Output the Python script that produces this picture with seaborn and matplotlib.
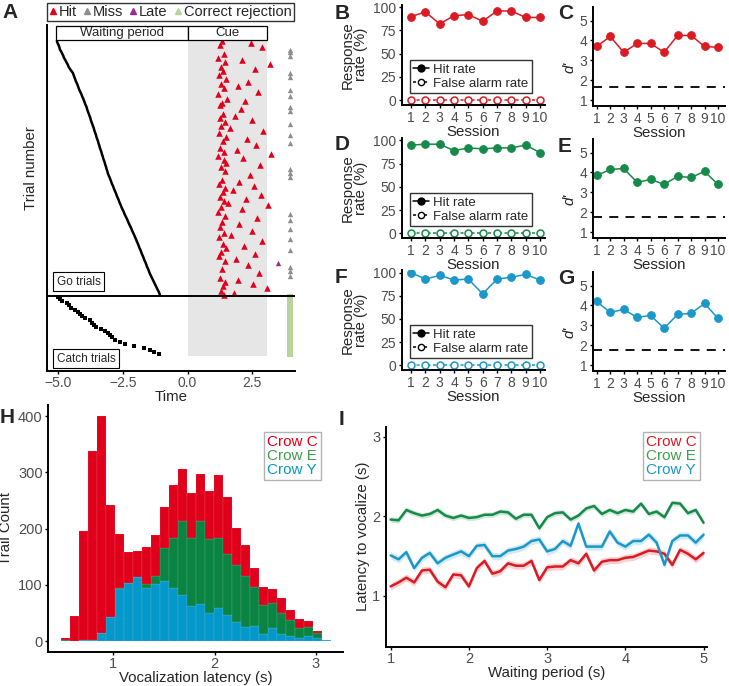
import numpy as np
import pandas as pd
import matplotlib
matplotlib.use("Agg")
import matplotlib.pyplot as plt
from matplotlib.lines import Line2D
from matplotlib.patches import Rectangle
import seaborn as sns

sns.set_theme(style="ticks")
plt.rcParams['font.family'] = ['Liberation Sans', 'DejaVu Sans']

RED = "#DA1B24"
GREEN = "#168A49"
BLUE = "#1B98C9"
H_RED = "#E0001B"
H_GREEN = "#0B8443"
H_BLUE = "#0497C9"
MISS_GRAY = "#8E8E8E"
LATE_PURPLE = "#9A2C8C"
CR_GREEN = "#B8D49C"
TXT_GRAY = "#4D4D4D"

# ---------------- A: trial raster ----------------
go_wait = [
    -5.05, -5.02, -4.98, -4.95, -4.93, -4.88, -4.84, -4.80, -4.77, -4.72, -4.68, -4.63, -4.60, -4.55, -4.49, -4.43,
    -4.40, -4.37, -4.34, -4.31, -4.27, -4.24, -4.21, -4.18, -4.14, -4.10, -4.07, -4.03, -4.00, -3.97, -3.94, -3.90,
    -3.88, -3.85, -3.82, -3.79, -3.76, -3.74, -3.71, -3.68, -3.65, -3.62, -3.60, -3.57, -3.54, -3.52, -3.49, -3.46,
    -3.44, -3.41, -3.39, -3.36, -3.33, -3.31, -3.28, -3.26, -3.23, -3.20, -3.18, -3.15, -3.13, -3.10, -3.08,
    -3.05, -3.01, -2.98, -2.95, -2.92, -2.88, -2.85, -2.82, -2.78, -2.75, -2.72, -2.68, -2.65, -2.62, -2.58, -2.55,
    -2.51, -2.47, -2.44, -2.40, -2.36, -2.32, -2.29, -2.25, -2.21, -2.17, -2.14, -2.10, -2.06, -2.03, -1.99,
    -1.96, -1.92, -1.89, -1.86, -1.82, -1.79, -1.76, -1.72, -1.69, -1.66, -1.62, -1.59, -1.56, -1.52, -1.49, -1.46,
    -1.42, -1.38, -1.34, -1.30, -1.26, -1.22, -1.18, -1.14, -1.10, -1.07,
]
go_hit = [
    1.32, 2.45, 1.25, 2.86, None, None, 1.40, None, 1.18, 2.10,
    1.45, 3.18, 1.28, 2.62, 1.36, None, 1.22, None, 1.48, 2.35,
    1.30, 1.95, 1.41, None, 2.72, 1.19, None, 1.52, 2.20, 1.34,
    1.26, None, 2.05, None, 1.38, 1.85, 1.24, 2.50, 1.43, None,
    1.31, 1.62, 2.93, 1.20, None, 1.47, 2.28, 1.35, None, 2.66,
    1.27, 1.90, 1.42, 3.22, 1.16, 2.15, 1.39, 1.50, 2.78, 1.29,
    None, 1.44, None, 2.40, None, 1.33, 2.00, 1.22, 2.55, 1.46,
    1.75, 1.37, 2.84, 1.25, 2.25, 1.40, 1.55, 3.10, 1.30, 2.12,
    1.18, None, 1.45, 2.70, None, 1.34, 1.98, 1.27, None, 2.48,
    1.41, 1.68, 1.23, None, 2.88, 1.36, 2.18, 1.48, None, 1.30,
    2.60, 1.21, 1.88, 1.43, None, 2.35, None, 1.32, None, 2.75,
    None, 1.26, 1.95, 1.44, 2.52, 1.35, 3.05, 1.28, 1.80, 1.40,
]
go_miss = [4, 5, 7, 15, 17, 23, 26, 31, 33, 39, 44, 48, 60, 62, 64, 81, 84, 88, 93, 98, 106, 108, 110]
go_late = [104]
late_time = [3.5]
catch_wait = [
    -5.00, -4.92, -4.84, -4.66, -4.58, -4.50, -4.36, -4.22, -4.14, -4.06, -3.98, -3.78, -3.70, -3.62,
    -3.54, -3.34, -3.20, -3.06, -2.98, -2.90, -2.82, -2.62, -2.40, -2.05, -1.70, -1.45, -1.30, -1.12,
]
cue_end = 3.07
outcome_x = 3.95   # column used for miss / correct rejection marks

# ---------------- B-G: sessions ----------------
sessions = list(range(1, 11))
hit_c = [90, 95, 82, 91, 92, 85, 96, 96, 89, 89]
hit_e = [95, 96, 96, 89, 92, 91, 92, 92, 95, 87]
hit_y = [100, 93, 97, 92, 93, 77, 93, 95, 98, 92]
fa_c = [0, 0, 0, 0, 0, 0, 0, 0, 0, 0]
fa_e = [0, 0, 0, 0, 0, 0, 0, 0, 0, 0]
fa_y = [0, 0, 0, 0, 0, 0, 0, 0, 0, 0]
dprime_c = [3.7, 4.2, 3.4, 3.85, 3.85, 3.4, 4.25, 4.25, 3.7, 3.65]
dprime_e = [3.85, 4.15, 4.2, 3.5, 3.65, 3.4, 3.8, 3.75, 4.05, 3.4]
dprime_y = [4.2, 3.65, 3.8, 3.4, 3.5, 2.85, 3.55, 3.6, 4.1, 3.35]
dthresh = [1.65, 1.75, 1.78]

# ---------------- H: latency histogram ----------------
lat_min, lat_max, n_bins = 0.484, 3.149, 30
count_c = [4, 44, 195, 337, 386, 199, 95, 55, 47, 67, 73, 74, 93, 93, 80,
           85, 86, 111, 103, 66, 55, 33, 33, 25, 28, 19, 16, 11, 4, 0]
count_e = [2, 0, 0, 0, 0, 0, 3, 0, 0, 6, 14, 58, 89, 132, 122,
           147, 132, 126, 107, 102, 91, 70, 52, 43, 37, 28, 18, 16, 9, 0]
count_y = [0, 0, 1, 1, 14, 43, 92, 103, 114, 95, 101, 107, 95, 82, 62,
           66, 49, 58, 47, 33, 25, 27, 12, 24, 12, 9, 6, 9, 5, 1]

# ---------------- I: latency vs waiting period ----------------
wait_s = [1.0, 1.1, 1.2, 1.3, 1.4, 1.5, 1.6, 1.7, 1.8, 1.9, 2.0, 2.1, 2.2, 2.3, 2.4, 2.5, 2.6, 2.7, 2.8, 2.9,
          3.0, 3.1, 3.2, 3.3, 3.4, 3.5, 3.6, 3.7, 3.8, 3.9, 4.0, 4.1, 4.2, 4.3, 4.4, 4.5, 4.6, 4.7, 4.8, 4.9, 5.0]
lat_c = [1.12, 1.17, 1.23, 1.17, 1.32, 1.33, 1.18, 1.11, 1.27, 1.26, 1.12, 1.35, 1.44, 1.28, 1.31, 1.41, 1.38,
         1.38, 1.44, 1.20, 1.36, 1.37, 1.37, 1.45, 1.41, 1.53, 1.32, 1.43, 1.45, 1.45, 1.48, 1.49, 1.53, 1.57,
         1.56, 1.53, 1.39, 1.58, 1.53, 1.46, 1.54]
lat_e = [1.96, 1.95, 2.08, 2.04, 2.01, 2.03, 2.08, 2.01, 1.98, 2.01, 1.98, 1.99, 2.02, 2.02, 2.06, 2.05, 1.97,
         2.02, 2.02, 1.85, 1.99, 2.04, 2.05, 1.96, 2.01, 2.10, 2.13, 2.03, 2.08, 2.04, 2.08, 2.06, 2.16, 2.03,
         2.06, 1.99, 2.17, 2.16, 2.04, 2.08, 1.92]
lat_y = [1.51, 1.46, 1.55, 1.35, 1.48, 1.54, 1.41, 1.48, 1.52, 1.56, 1.50, 1.63, 1.64, 1.50, 1.50, 1.57, 1.59,
         1.62, 1.69, 1.71, 1.56, 1.59, 1.69, 1.63, 1.91, 1.62, 1.62, 1.62, 1.81, 1.67, 1.62, 1.69, 1.69, 1.77,
         1.67, 1.39, 1.69, 1.76, 1.76, 1.67, 1.77]
sem = {"Crow C": 0.045, "Crow E": 0.035, "Crow Y": 0.045}

crows = ["Crow C", "Crow E", "Crow Y"]

# ---------------- figure ----------------
W, H = 729, 686
fig = plt.figure(figsize=(W / 100, H / 100), dpi=100)


def px_axes(left, top, right, bottom):
    return fig.add_axes([left / W, 1 - bottom / H, (right - left) / W, (bottom - top) / H])


def style(ax):
    sns.despine(ax=ax)
    for s in ["left", "bottom"]:
        ax.spines[s].set_linewidth(1.4)
        ax.spines[s].set_color("black")
    ax.tick_params(length=2.5, width=1, colors="black", labelcolor=TXT_GRAY, labelsize=10, pad=1.5)


# ---- A ----
axA = px_axes(47, 25, 295, 370.7)
go_y = np.arange(len(go_wait)) + 7.5
catch_y = np.arange(len(catch_wait)) + 127.5
hit_arr = np.array(go_hit, dtype=float)

axA.fill_between([0, cue_end], 7.0, catch_y[-1] + 0.5, color="#E6E6E6", lw=0, zorder=0)
sns.lineplot(x=go_wait, y=go_y, sort=False, estimator=None, color="black", linewidth=1.8, ax=axA, zorder=3)
sns.scatterplot(x=catch_wait, y=catch_y, marker="s", s=6.5, color="black", linewidth=0, ax=axA, zorder=3)
sns.scatterplot(x=hit_arr, y=go_y, marker="^", s=22, color=H_RED, linewidth=0, ax=axA, zorder=4)
sns.scatterplot(x=[outcome_x] * len(go_miss), y=go_y[go_miss], marker="^", s=15,
                color=MISS_GRAY, linewidth=0, ax=axA, zorder=4)
sns.scatterplot(x=late_time, y=go_y[go_late], marker="^", s=15, color=LATE_PURPLE, linewidth=0, ax=axA, zorder=4)
sns.scatterplot(x=[outcome_x] * len(catch_wait), y=catch_y, marker="s", s=20, color=CR_GREEN,
                linewidth=0, ax=axA, zorder=4)
axA.axhline(127.0, color="black", lw=1.4, zorder=5)

axA.add_patch(Rectangle((-5.08, 0.5), 5.08, 6.5, fc="white", ec="black", lw=0.9, zorder=5))
axA.add_patch(Rectangle((0, 0.5), 3.08, 6.5, fc="white", ec="black", lw=0.9, zorder=5))
axA.text(-2.54, 3.8, "Waiting period", ha="center", va="center", fontsize=9.5, zorder=6)
axA.text(1.54, 3.8, "Cue", ha="center", va="center", fontsize=9.5, zorder=6)
box = dict(boxstyle="square,pad=0.3", fc="white", ec="black", lw=0.8)
axA.text(-5.05, 120.3, "Go trials", ha="left", va="center", fontsize=8.5, bbox=box, zorder=6)
axA.text(-5.05, 156.4, "Catch trials", ha="left", va="center", fontsize=8.5, bbox=box, zorder=6)

axA.set_xlim(-5.43, 4.15)
axA.set_ylim(162.1, 0)
style(axA)
axA.set_yticks([])
axA.set_xticks([-5, -2.5, 0, 2.5])
axA.set_xticklabels(["\u22125.0", "\u22122.5", "0.0", "2.5"])
axA.set_xlabel("Time", fontsize=10.8, labelpad=0)
axA.set_ylabel("Trial number", fontsize=10.8)
axA.yaxis.set_label_coords(-0.035, 0.586)

a_handles = [Line2D([], [], ls="none", marker="^", ms=4, color=c)
             for c in [H_RED, MISS_GRAY, LATE_PURPLE, CR_GREEN]]
legA = fig.legend(a_handles, ["Hit", "Miss", "Late", "Correct rejection"], loc="upper left",
                  bbox_to_anchor=(47 / W, 1 - 3 / H), ncol=4, fontsize=10.5, frameon=True, fancybox=False,
                  edgecolor="black", handlelength=0.5, handletextpad=0.15, columnspacing=0.45,
                  borderpad=0.15, borderaxespad=0)
legA.get_frame().set_linewidth(1.0)

# ---- B-G ----
rows = [(0, hit_c, fa_c, dprime_c, RED, "B", "C"),
        (133.2, hit_e, fa_e, dprime_e, GREEN, "D", "E"),
        (265.3, hit_y, fa_y, dprime_y, BLUE, "F", "G")]
for k, (dy, hit, fa, dp, col, lab1, lab2) in enumerate(rows):
    ax = px_axes(401.7, 4.5 + dy, 545, 105.1 + dy)
    sns.lineplot(x=sessions, y=hit, color=col, marker="o", markersize=5.5, markeredgecolor=col,
                 linewidth=1.1, ax=ax)
    sns.lineplot(x=sessions, y=fa, color=col, marker="o", markersize=5, markerfacecolor="white",
                 markeredgecolor=col, markeredgewidth=1.1, linestyle=(0, (2, 1.6)), linewidth=1.1, ax=ax)
    ax.set_xlim(0.35, 10.35)
    ax.set_ylim(-5.5, 103)
    style(ax)
    ax.set_xticks(sessions)
    ax.set_yticks([0, 25, 50, 75, 100])
    ax.set_xlabel("Session", fontsize=10.8, labelpad=0)
    ax.set_ylabel("Response\nrate (%)", fontsize=10.8, linespacing=0.9)
    ax.yaxis.set_label_coords(-0.235, 0.5)
    handles = [Line2D([], [], color="black", marker="o", ms=5, lw=1.1),
               Line2D([], [], color="black", marker="o", ms=4.5, mfc="white", lw=1.1, ls=(0, (2, 1.6)))]
    leg = ax.legend(handles, ["Hit rate", "False alarm rate"], loc="upper left", bbox_to_anchor=(0.058, 0.448),
                    fontsize=9.5, frameon=True, fancybox=False, edgecolor="black", handlelength=1.2,
                    handletextpad=0.3, borderpad=0.25, labelspacing=0.15, borderaxespad=0)
    leg.get_frame().set_linewidth(1.0)

    dyc = [0, 132, 265][k]
    axd = px_axes(592.7, 6.7 + dyc, 725, 106 + dyc)
    sns.lineplot(x=sessions, y=dp, color=col, marker="o", markersize=5.5, markeredgecolor=col,
                 linewidth=1.1, ax=axd)
    axd.axhline(dthresh[k], color="black", lw=1.3, ls=(0, (5, 4)))
    axd.set_xlim(0.7, 10.52)
    axd.set_ylim(0.7, 5.7)
    style(axd)
    axd.set_xticks(sessions)
    axd.set_yticks([1, 2, 3, 4, 5])
    axd.set_xlabel("Session", fontsize=10.8, labelpad=0)
    axd.set_ylabel("d'", fontsize=10.8, style="italic")
    axd.yaxis.set_label_coords(-0.125, 0.39)

    fig.text(335 / W, 1 - (4 + [0, 131, 264][k]) / H, lab1, fontsize=15, fontweight="bold", va="top")
    fig.text(558 / W, 1 - (4 + [0, 133, 265][k]) / H, lab2, fontsize=15, fontweight="bold", va="top")

# ---- H ----
axH = px_axes(48.3, 405, 343, 651.7)
edges = np.linspace(lat_min, lat_max, n_bins + 1)
centers = (edges[:-1] + edges[1:]) / 2
hist_df = pd.DataFrame({
    "latency": np.tile(centers, 3),
    "count": count_c + count_e + count_y,
    "crow": np.repeat(crows, n_bins),
})
sns.histplot(data=hist_df, x="latency", weights="count", hue="crow", hue_order=crows, bins=n_bins,
             binrange=(lat_min, lat_max), multiple="stack", palette=[H_RED, H_GREEN, H_BLUE],
             alpha=1, linewidth=0.3, edgecolor="#FFFFFF40", legend=False, ax=axH)
axH.set_xlim(0.358, 3.267)
axH.set_ylim(-19, 420)
style(axH)
axH.set_xticks([1, 2, 3])
axH.set_yticks([0, 100, 200, 300, 400])
axH.tick_params(labelsize=10.5)
axH.set_xlabel("Vocalization latency (s)", fontsize=10.8, labelpad=0)
axH.set_ylabel("Trail Count", fontsize=10.8)
axH.yaxis.set_label_coords(-0.12, 0.5)
legH = axH.legend([Rectangle((0, 0), 0, 0, alpha=0)] * 3, crows, loc="upper left",
                  bbox_to_anchor=(0.732, 0.891), fontsize=11, frameon=True, fancybox=False,
                  edgecolor="#A0A0A0", handlelength=0, handletextpad=0, borderpad=0.2,
                  labelspacing=0.0, borderaxespad=0)
for t, c in zip(legH.get_texts(), [H_RED, "#3E9E4E", H_BLUE]):
    t.set_color(c)

# ---- I ----
axI = px_axes(386, 426.7, 706.7, 646.7)
line_df = pd.DataFrame({
    "wait": wait_s * 3,
    "latency": lat_c + lat_e + lat_y,
    "crow": np.repeat(crows, len(wait_s)),
})
pal = dict(zip(crows, [RED, GREEN, BLUE]))
for crow, g in line_df.groupby("crow"):
    axI.fill_between(g["wait"], g["latency"] - sem[crow], g["latency"] + sem[crow],
                     color=pal[crow], alpha=0.2, lw=0)
sns.lineplot(data=line_df, x="wait", y="latency", hue="crow", hue_order=crows, palette=pal,
             linewidth=1.8, legend=False, ax=axI)
axI.set_xlim(0.94, 5.04)
axI.set_ylim(0.363, 3.126)
style(axI)
axI.set_xticks([1, 2, 3, 4, 5])
axI.set_yticks([1, 2, 3])
axI.tick_params(labelsize=10.5)
axI.set_xlabel("Waiting period (s)", fontsize=10.8, labelpad=0)
axI.set_ylabel("Latency to vocalize (s)", fontsize=10.8)
axI.yaxis.set_label_coords(-0.05, 0.5)
legI = axI.legend([Rectangle((0, 0), 0, 0, alpha=0)] * 3, crows, loc="upper left",
                  bbox_to_anchor=(0.801, 0.976), fontsize=11, frameon=True, fancybox=False,
                  edgecolor="#A0A0A0", handlelength=0, handletextpad=0, borderpad=0.2,
                  labelspacing=0.0, borderaxespad=0)
for t, c in zip(legI.get_texts(), [RED, "#3E9E4E", BLUE]):
    t.set_color(c)

fig.text(2 / W, 1 - 3 / H, "A", fontsize=15, fontweight="bold", va="top")
fig.text(0 / W, 1 - 408 / H, "H", fontsize=15, fontweight="bold", va="top")
fig.text(339 / W, 1 - 410 / H, "I", fontsize=15, fontweight="bold", va="top")

fig.savefig("out.png", dpi=100)
